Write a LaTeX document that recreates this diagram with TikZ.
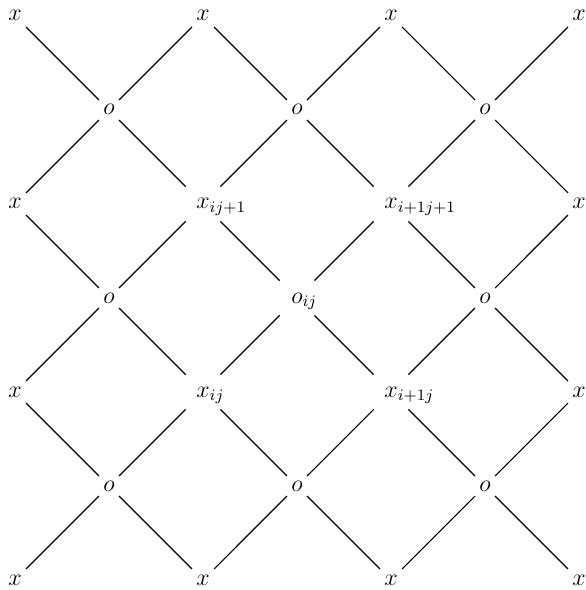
\documentclass[tikz,border=0pt]{standalone}
\usepackage{amsmath,amssymb}
\usepackage{tikz}

% letter with its subscript, padded so the letter sits at the node centre
\newcommand{\symsub}[2]{\hphantom{{}_{#2}}#1_{#2}}

\begin{document}
\begin{tikzpicture}[x=94pt, y=94pt,
    vertex/.style={inner sep=2pt, text height=9pt, text depth=4pt, font=\large},
    bond/.style={semithick}]
  \useasboundingbox (-0.080,-0.053) rectangle (3.032,3.085);
  % x points
  \foreach \c/\r/\t in {0/0/x, 1/0/x, 2/0/x, 3/0/x,
                        0/1/x, 1/1/\symsub{x}{ij}, 2/1/\symsub{x}{i+1j}, 3/1/x,
                        0/2/x, 1/2/\symsub{x}{ij+1}, 2/2/\symsub{x}{i+1j+1}, 3/2/x,
                        0/3/x, 1/3/x, 2/3/x, 3/3/x}
    \node[vertex] (x\c\r) at (\c,\r) {$\t$};
  % o points
  \foreach \c/\r/\t in {0/0/o, 1/0/o, 2/0/o,
                        0/1/o, 1/1/\symsub{o}{ij}, 2/1/o,
                        0/2/o, 1/2/o, 2/2/o}
    \node[vertex] (o\c\r) at (\c+0.5,\r+0.5) {$\t$};
  % diagonals
  \foreach \c in {0,1,2}
    \foreach \r in {0,1,2} {
      \pgfmathtruncatemacro\cc{\c+1}
      \pgfmathtruncatemacro\rr{\r+1}
      \draw[bond] (o\c\r) -- (x\c\r);
      \draw[bond] (o\c\r) -- (x\cc\r);
      \draw[bond] (o\c\r) -- (x\c\rr);
      \draw[bond] (o\c\r) -- (x\cc\rr);
    }
\end{tikzpicture}
\end{document}
